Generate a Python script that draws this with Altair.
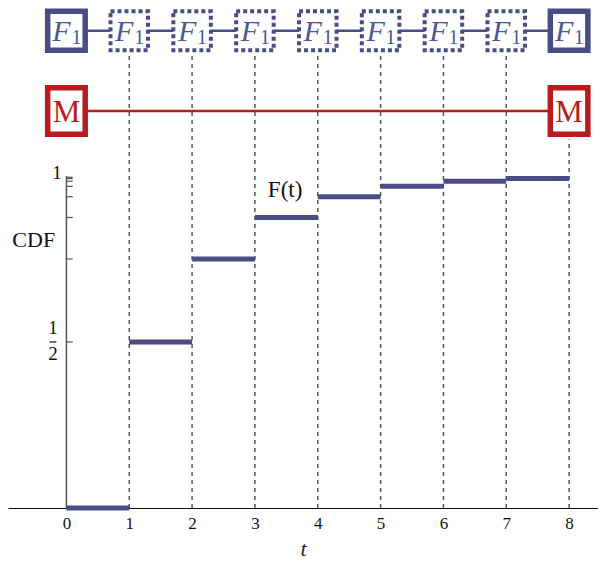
import altair as alt
import pandas as pd

# ---- data ----
t_start = [0, 1, 2, 3, 4, 5, 6, 7]
t_end = [1, 2, 3, 4, 5, 6, 7, 8]
cdf = [0, 1/2, 3/4, 7/8, 15/16, 31/32, 63/64, 127/128]
y_ticks = [1/2, 3/4, 7/8, 15/16, 31/32, 63/64, 127/128, 255/256]
x_ticks = [0, 1, 2, 3, 4, 5, 6, 7, 8]
f_boxes_t = [0, 1, 2, 3, 4, 5, 6, 7, 8]
f_boxes_style = ["solid", "dashed", "dashed", "dashed", "dashed", "dashed", "dashed", "dashed", "solid"]
m_boxes_t = [0, 8]
grid_t = [1, 2, 3, 4, 5, 6, 7, 8]

BLUE = "#4B4C85"
TXT_BLUE = "#4A5896"
RED = "#B81C1C"
SERIF = "Liberation Serif"

W, H = 590, 500
X_DOM = [-0.93, 8.46]
Y_DOM = [0, 1.506]
PXY = (Y_DOM[1] - Y_DOM[0]) / H  # y units per pixel

# layout (data units)
F_ROW = (508 - 30.75) * PXY
HH_F = 19.5 * PXY
M_ROW = (508 - 111) * PXY
HH_M = 23.25 * PXY
HW = 0.2986   # half box width in t units

xs = alt.Scale(domain=X_DOM, nice=False, zero=False)
ys = alt.Scale(domain=Y_DOM, nice=False, zero=False)

XAXIS = alt.Axis(values=x_ticks, format="d", labelFont=SERIF, labelFontSize=17,
                 labelColor="#111", domainColor="#111", domainWidth=1.2,
                 tickSize=0, labelPadding=7, grid=False,
                 titleFont=SERIF, titleFontStyle="italic", titleFontSize=22,
                 titleFontWeight="normal", titleColor="#222", titlePadding=7)

steps = pd.DataFrame({"t0": t_start, "t1": t_end, "F": cdf})
fbox = pd.DataFrame({"t": f_boxes_t, "style": f_boxes_style})
mbox = pd.DataFrame({"t": m_boxes_t})
grid = pd.DataFrame({"t": grid_t})
grid["top"] = [F_ROW - HH_F - 5 * PXY if t < 8 else M_ROW - HH_M - 5 * PXY for t in grid_t]
grid["bottom"] = 0
yt = pd.DataFrame({"v": y_ticks})


def X(f):
    return alt.X(f, type="quantitative", scale=xs, axis=XAXIS, title="t")


def Y(f):
    return alt.Y(f, type="quantitative", scale=ys, axis=None)


gridlines = alt.Chart(grid).mark_rule(strokeDash=[4, 4], color="#555", strokeWidth=1.5).encode(
    x=X("t"), y=Y("bottom"), y2="top"
)

fline = alt.Chart(pd.DataFrame({"a": [f_boxes_t[0]], "b": [f_boxes_t[-1]], "yy": [F_ROW]})).mark_rule(
    color=BLUE, strokeWidth=2.5).encode(x=X("a"), x2="b", y=Y("yy"))

mline = alt.Chart(pd.DataFrame({"a": [m_boxes_t[0]], "b": [m_boxes_t[-1]], "yy": [M_ROW]})).mark_rule(
    color=RED, strokeWidth=2.5).encode(x=X("a"), x2="b", y=Y("yy"))

fbox_base = alt.Chart(fbox).transform_calculate(
    x0=f"datum.t - {HW}", x1=f"datum.t + {HW}", y0=str(F_ROW - HH_F), y1=str(F_ROW + HH_F),
    yy=str(F_ROW)
)
fsolid = fbox_base.transform_filter("datum.style == 'solid'").mark_rect(
    fill="white", stroke=BLUE, strokeWidth=5.5).encode(x=X("x0"), x2="x1", y=Y("y0"), y2="y1")
fdash = fbox_base.transform_filter("datum.style == 'dashed'").mark_rect(
    fill="white", stroke=BLUE, strokeWidth=4, strokeDash=[4, 3]).encode(x=X("x0"), x2="x1", y=Y("y0"), y2="y1")

ftxt = fbox_base.mark_text(
    text="F", font=SERIF, fontStyle="italic", fontSize=30, color=TXT_BLUE, dx=-5, dy=1,
    baseline="middle", align="center").encode(x=X("t"), y=Y("yy"))
ftxt1 = fbox_base.mark_text(
    text="1", font=SERIF, fontSize=20, color=TXT_BLUE, dx=10, dy=7,
    baseline="middle", align="center").encode(x=X("t"), y=Y("yy"))

mbox_base = alt.Chart(mbox).transform_calculate(
    x0=f"datum.t - {HW}", x1=f"datum.t + {HW}", y0=str(M_ROW - HH_M), y1=str(M_ROW + HH_M),
    yy=str(M_ROW)
)
mrect = mbox_base.mark_rect(fill="white", stroke=RED, strokeWidth=5.5).encode(
    x=X("x0"), x2="x1", y=Y("y0"), y2="y1")
mtxt = mbox_base.mark_text(text="M", font=SERIF, fontSize=31, color=RED, baseline="middle",
                           align="center", dy=2).encode(x=X("t"), y=Y("yy"))

# y axis (drawn at t = 0)
yline = alt.Chart(pd.DataFrame({"a": [0], "y0": [0], "y1": [1]})).mark_rule(
    color="#555", strokeWidth=1.5).encode(x=X("a"), y=Y("y0"), y2="y1")
yticks = alt.Chart(yt).transform_calculate(a="0", b="0.1").mark_rule(
    color="#555", strokeWidth=1.2).encode(x=X("a"), x2="b", y=Y("v"))
fracbar = alt.Chart(pd.DataFrame({"a": [-0.27], "b": [-0.16], "v": [0.5]})).mark_rule(
    color="#111", strokeWidth=1.2).encode(x=X("a"), x2="b", y=Y("v"))

lab_t = [-0.15, -0.215, -0.215, 3.48, -0.52]
lab_y = [1.0, 0.5, 0.5, 0.958, 0.807]
lab_txt = ["1", "1", "2", "F(t)", "CDF"]
lab_dy = [-3, -14, 12, 0, 0]
lab_size = [19, 19, 19, 23, 22]
labels = pd.DataFrame({
    "t": lab_t,
    "y": [y - d * PXY for y, d in zip(lab_y, lab_dy)],
    "txt": lab_txt,
    "size": lab_size,
})
lbl = alt.Chart(labels).mark_text(font=SERIF, color="#111", baseline="middle", align="center").encode(
    x=X("t"), y=Y("y"), text="txt:N",
    size=alt.Size("size:Q", scale=None, legend=None)
)

stepl = alt.Chart(steps).mark_rule(color=BLUE, strokeWidth=5).encode(
    x=X("t0"), x2="t1", y=Y("F")
)

chart = alt.layer(
    gridlines, fline, mline, fsolid, fdash, ftxt, ftxt1, mrect, mtxt,
    yline, yticks, fracbar, lbl, stepl
).properties(
    width=W, height=H,
    autosize=alt.AutoSizeParams(type="none"),
    padding={"left": 0, "top": 0, "right": 0, "bottom": 60},
).configure_view(stroke=None)

chart.save("out.html", embed_options={"renderer": "svg", "actions": False})
